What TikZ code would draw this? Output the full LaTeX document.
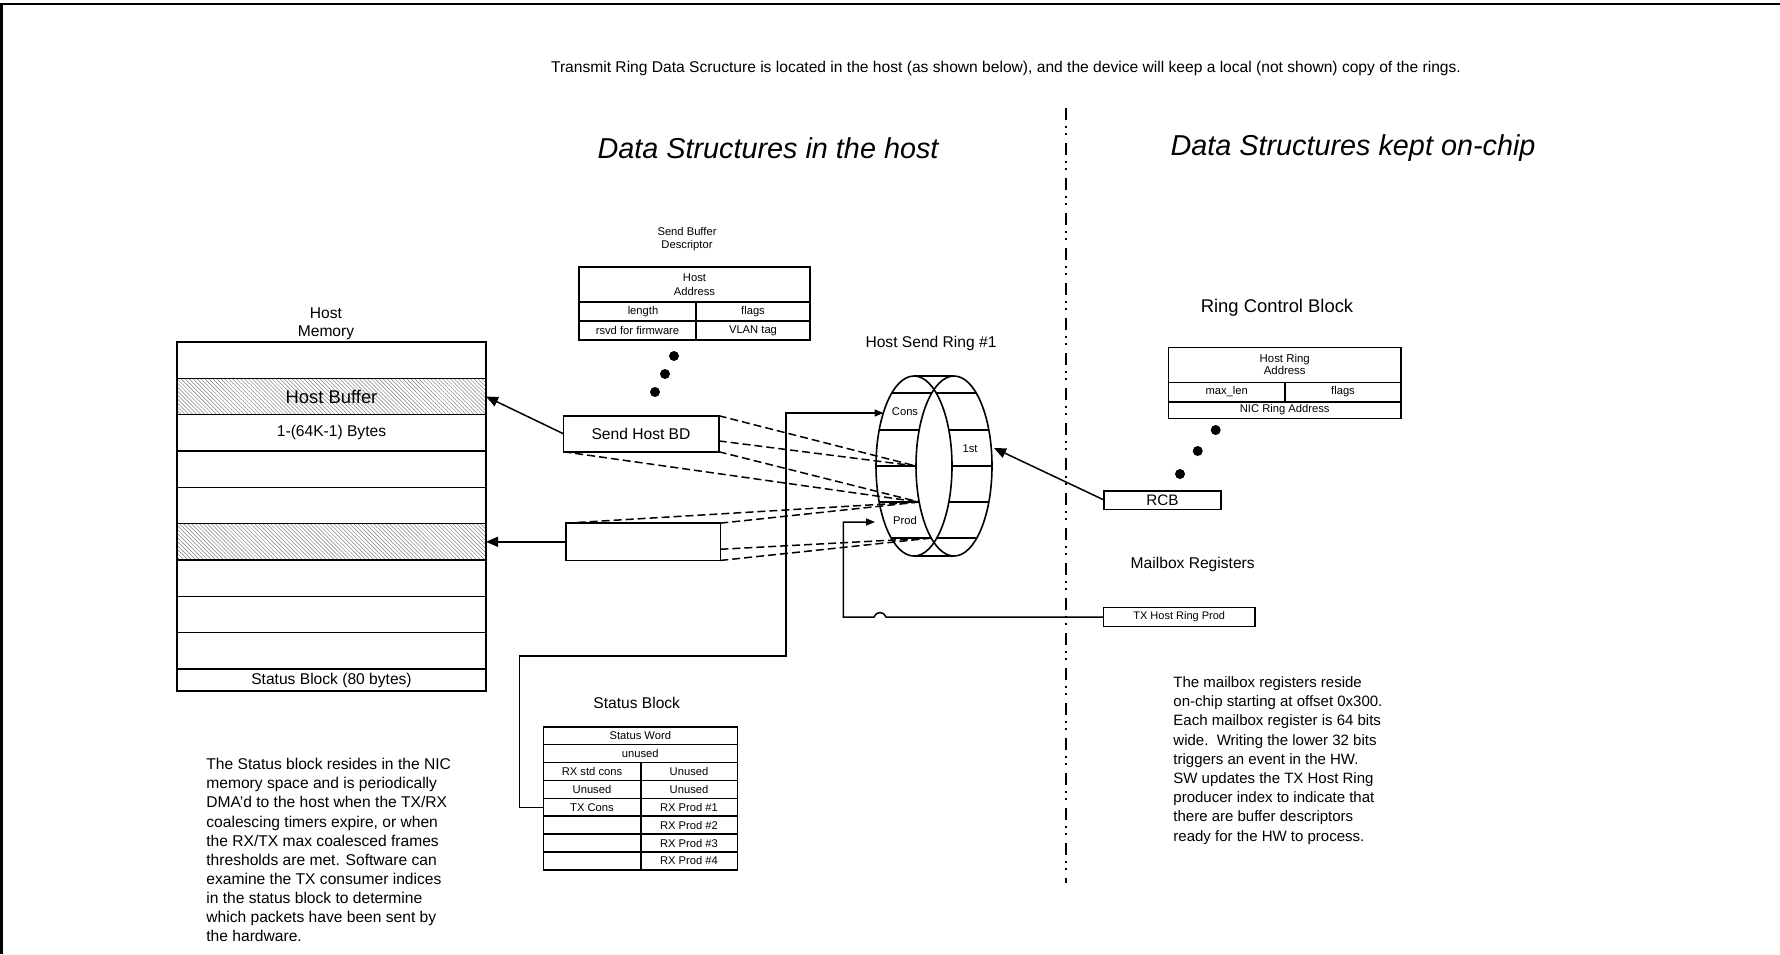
\documentclass[tikz,border=0pt]{standalone}
\usepackage{fontspec}
\setmainfont{Liberation Sans}
\usetikzlibrary{arrows.meta,patterns.meta,calc}
\begin{document}
\begin{tikzpicture}[x=0.5pt,y=-0.5pt,
  box/.style={draw, line width=0.8pt, inner sep=0pt, outer sep=0pt},
  fmain/.style={font=\fontsize{7.8}{9.4}\selectfont},
  fsmall/.style={font=\fontsize{5.6}{6.8}\selectfont},
  fbig/.style={font=\fontsize{9.2}{11}\selectfont},
  fhead/.style={font=\fontsize{14.4}{17}\selectfont\itshape},
  txt/.style={inner sep=0pt},
  conn/.style={line width=0.75pt},
  dsh/.style={line width=0.75pt, dash pattern=on 4pt off 2pt},
  ringline/.style={line width=0.8pt},
  bigtip/.style={-{Triangle[length=6pt,width=5pt]}},
  smalltip/.style={-{Triangle[length=4.5pt,width=3.5pt]}},
  blob/.style={circle, fill, inner sep=0pt, minimum size=5pt},
  hatch/.style={pattern={Lines[angle=-45,distance=1.4pt,line width=0.25pt]}, pattern color=gray},
  divider/.style={line width=1.2pt, dash pattern=on 6pt off 2.8pt on 1pt off 2.8pt on 1pt off 3.9pt}
]
\useasboundingbox (0,0) rectangle (1780,954);
% frame
\draw[line width=1.2pt] (1.5,954) -- (1.5,4) -- (1780,4);

% title and headings
\node[txt, fmain] (title) at (1006,68) {Transmit Ring Data Scructure is located in the host (as shown below), and the device will keep a local (not shown) copy of the rings.};
\node[txt, fhead] (hhost) at (768,148) {Data Structures in the host};
\node[txt, fhead] (hchip) at (1353,148) {Data Structures kept on-chip};

% divider
\coordinate (dtop) at (1066,108);
\coordinate (dbot) at (1066,883);
\draw[divider] (dtop) -- (dbot);

% host memory
\node[txt, fmain, align=center, font=\fontsize{7.8}{9}\selectfont] (hmlab) at (326,324) {Host\\Memory};
\node[box, minimum width=154.5pt, minimum height=18.17pt] (m1) at (331.5,360.2) {};
\node[box, hatch, fbig, minimum width=154.5pt, minimum height=18.17pt] (m2) at (331.5,396.5) {Host Buffer};
\node[box, fmain, minimum width=154.5pt, minimum height=18.17pt] (m3) at (331.5,432.8) {1-(64K-1) Bytes};
\node[box, minimum width=154.5pt, minimum height=18.17pt] (m4) at (331.5,469.2) {};
\node[box, minimum width=154.5pt, minimum height=18.17pt] (m5) at (331.5,505.5) {};
\node[box, hatch, minimum width=154.5pt, minimum height=18.17pt] (m6) at (331.5,541.8) {};
\node[box, minimum width=154.5pt, minimum height=18.17pt] (m7) at (331.5,578.2) {};
\node[box, minimum width=154.5pt, minimum height=18.17pt] (m8) at (331.5,614.5) {};
\node[box, minimum width=154.5pt, minimum height=18.17pt] (m9) at (331.5,650.8) {};
\node[box, fmain, minimum width=154.5pt, minimum height=11pt] (ms) at (331.5,680) {Status Block (80 bytes)};

% status paragraph
\node[txt, font=\fontsize{7.8}{9.55}\selectfont, align=left, anchor=north west] (spara) at (206,758) {The Status block resides in the NIC\\memory space and is periodically\\DMA'd to the host when the TX/RX\\coalescing timers expire, or when\\the RX/TX max coalesced frames\\thresholds are met. Software can\\examine the TX consumer indices\\in the status block to determine\\which packets have been sent by\\the hardware.};

% send buffer descriptor
\node[txt, fsmall, align=center] (sbdlab) at (687,239) {Send Buffer\\Descriptor};
\node[box, fsmall, align=center, font=\fontsize{5.6}{6.85}\selectfont, minimum width=115.5pt, minimum height=17.5pt] (sbdaddr) at (694.5,284.6) {Host\\Address};
\node[box, fsmall, minimum width=58.5pt, minimum height=9.2pt] (sbdlen) at (637.5,311.5) {\hspace{5.5pt}length};
\node[box, fsmall, minimum width=57pt, minimum height=9.2pt] (sbdflags) at (753,311.5) {flags};
\node[box, fsmall, minimum width=58.5pt, minimum height=9.65pt] (sbdrsvd) at (637.5,330.4) {rsvd for firmware\hspace{5.5pt}};
\node[box, fsmall, minimum width=57pt, minimum height=9.65pt] (sbdvlan) at (753,330.4) {VLAN tag\hspace{12pt}};
\node[blob] (sd1) at (674,356) {};
\node[blob] (sd2) at (665,374) {};
\node[blob] (sd3) at (655,392) {};

% buffer descriptors
\node[box, fmain, minimum width=77.7pt, minimum height=18pt] (shbd) at (641,433.7) {Send Host BD};
\node[box, minimum width=77.3pt, minimum height=18.65pt] (bd2) at (643,541.8) {};
\draw[conn, bigtip] (shbd.west) -- (m2.east);
\draw[conn, bigtip] (bd2.west) -- (m6.east);

% ring
\node[txt, fmain] (hsrlab) at (931,343) {Host Send Ring \#1};
\draw[ringline] (914,466) ellipse [x radius=19pt, y radius=45pt];
\draw[ringline] (954,466) ellipse [x radius=19pt, y radius=45pt];
\draw[ringline] (914,376) -- (954,376) (914,556) -- (954,556);
\draw[ringline] (891.8,393) -- (931.8,393) (936.2,393) -- (976.2,393)
  (879.2,430) -- (919.2,430) (948.8,430) -- (988.8,430)
  (876,466) -- (916,466) (952,466) -- (992,466)
  (879.2,502) -- (919.2,502) (948.8,502) -- (988.8,502)
  (891.8,538) -- (931.8,538) (936.2,538) -- (976.2,538);
\node[txt, fsmall] (cons) at (905,412) {Cons};
\node[txt, fsmall] (prod) at (905,520) {Prod};
\node[txt, fsmall] (first) at (970,449) {1st};
\coordinate (sA) at (916,466);
\coordinate (sB) at (919.2,502);
\coordinate (sC) at (931.8,538);
\coordinate (consin) at (883.5,413);
\coordinate (prodin) at (875,522);
\coordinate (firstin) at (994,448);

% dashed expansion lines
\draw[dsh] (shbd.north east) -- (sA);
\draw[dsh] ($(shbd.north east)!0.7!(shbd.south east)$) -- (sA);
\draw[dsh] (shbd.south east) -- (sB);
\draw[dsh] (shbd.south west) -- (sB);
\draw[dsh] (bd2.north west) -- (sB);
\draw[dsh] (bd2.north east) -- (sB);
\draw[dsh] ($(bd2.north east)!0.7!(bd2.south east)$) -- (sC);
\draw[dsh] (bd2.south east) -- (sC);

% status block
\node[txt, fmain] (sblab) at (636.7,703.3) {Status Block};
\node[box, fsmall, minimum width=97pt, minimum height=8.95pt] (sw) at (640.3,735.65) {Status Word};
\node[box, fsmall, minimum width=97pt, minimum height=8.95pt] (un) at (640.3,753.55) {unused};
\node[box, fsmall, minimum width=48.7pt, minimum height=8.95pt] (l3) at (592,771.45) {RX std cons};
\node[box, fsmall, minimum width=48.3pt, minimum height=8.95pt] (r3) at (689,771.45) {Unused};
\node[box, fsmall, minimum width=48.7pt, minimum height=8.95pt] (l4) at (592,789.35) {Unused};
\node[box, fsmall, minimum width=48.3pt, minimum height=8.95pt] (r4) at (689,789.35) {Unused};
\node[box, fsmall, minimum width=48.7pt, minimum height=8.95pt] (txc) at (592,807.25) {TX Cons};
\node[box, fsmall, minimum width=48.3pt, minimum height=8.95pt] (r5) at (689,807.25) {RX Prod \#1};
\node[box, fsmall, minimum width=48.7pt, minimum height=8.95pt] (l6) at (592,825.15) {};
\node[box, fsmall, minimum width=48.3pt, minimum height=8.95pt] (r6) at (689,825.15) {RX Prod \#2};
\node[box, fsmall, minimum width=48.7pt, minimum height=8.95pt] (l7) at (592,843.05) {};
\node[box, fsmall, minimum width=48.3pt, minimum height=8.95pt] (r7) at (689,843.05) {RX Prod \#3};
\node[box, fsmall, minimum width=48.7pt, minimum height=8.95pt] (l8) at (592,860.95) {};
\node[box, fsmall, minimum width=48.3pt, minimum height=8.95pt] (r8) at (689,860.95) {RX Prod \#4};

% consumer connector
\coordinate (cA) at (519.3,656);
\coordinate (cB) at (786,656);
\draw[conn, smalltip] (txc.west) -| (cA) -- (cB) |- (consin);

% ring control block
\node[txt, fbig] (rcblab) at (1277,308) {Ring Control Block};
\node[box, align=center, font=\fontsize{5.7}{5.9}\selectfont, minimum width=116.35pt, minimum height=17.5pt] (rcbaddr) at (1284.7,364.8) {Host Ring\\Address};
\node[box, fsmall, minimum width=58.35pt, minimum height=9.7pt] (rcbmax) at (1226.7,392) {max\_len\hspace{16pt}};
\node[box, fsmall, minimum width=58pt, minimum height=9.7pt] (rcbflags) at (1343,392) {flags};
\node[box, fsmall, minimum width=116.35pt, minimum height=8.3pt] (rcbnic) at (1284.7,410) {NIC Ring Address};
\node[blob] (rd1) at (1215.7,430) {};
\node[blob] (rd2) at (1197.7,451) {};
\node[blob] (rd3) at (1180,474) {};
\node[box, font=\fontsize{7.6}{9}\selectfont, minimum width=58.35pt, minimum height=9.3pt] (rcb) at (1162.35,500) {RCB};
\draw[conn, bigtip] (rcb.west) -- (firstin);

% mailbox
\node[txt, fmain] (mblab) at (1192.7,564) {Mailbox Registers};
\node[box, font=\fontsize{5.5}{6.6}\selectfont, minimum width=75.85pt, minimum height=9.35pt] (txp) at (1179.2,617) {TX Host Ring Prod};
\coordinate (pA) at (886,617);
\coordinate (pB) at (874,617);
\coordinate (pC) at (843.3,617);
\draw[conn, smalltip] (txp.west) -- (pA) .. controls (884,611) and (876,611) .. (pB) -- (pC) |- (prodin);

\node[txt, font=\fontsize{7.5}{9.62}\selectfont, align=left, anchor=north west] (mpara) at (1173,676) {The mailbox registers reside\\on-chip starting at offset 0x300.\\Each mailbox register is 64 bits\\wide.\ \ Writing the lower 32 bits\\triggers an event in the HW.\\SW updates the TX Host Ring\\producer index to indicate that\\there are buffer descriptors\\ready for the HW to process.};
\end{tikzpicture}
\end{document}
